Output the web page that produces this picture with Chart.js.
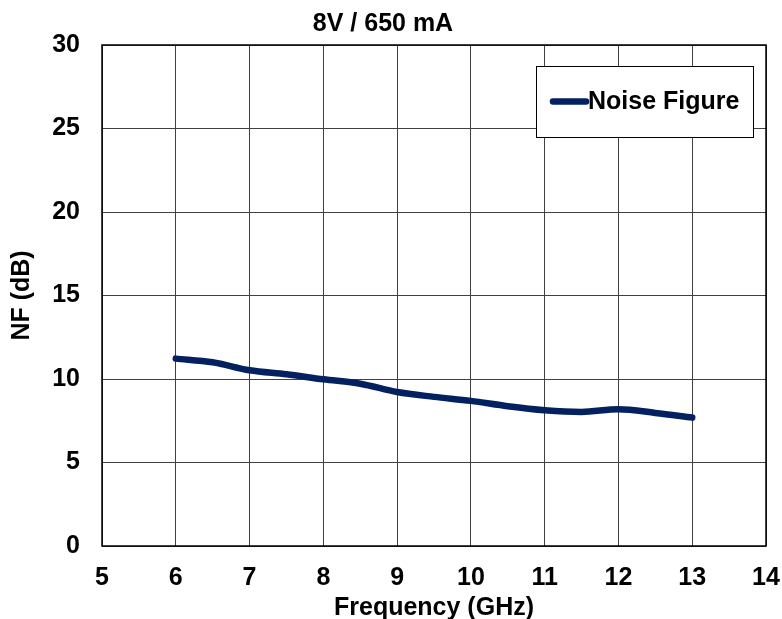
<!DOCTYPE html>
<html>
<head>
<meta charset="utf-8">
<script src="https://cdn.jsdelivr.net/npm/chart.js@4/dist/chart.umd.min.js"></script>
<style>
  html, body { margin: 0; padding: 0; background: #fff; }
  #wrap { width: 782px; height: 619px; }
</style>
</head>
<body>
<div id="wrap"><canvas id="c" width="782" height="619"></canvas></div>
<script>
const frequencyGHz = [6, 6.5, 7, 7.5, 8, 8.5, 9, 9.5, 10, 10.5, 11, 11.5, 12, 12.5, 13];
const noiseFigureDb = [11.22, 11.0, 10.52, 10.28, 9.98, 9.72, 9.22, 8.93, 8.69, 8.37, 8.13, 8.03, 8.19, 7.97, 7.69];
const seriesLabel = 'Noise Figure';
const chartTitle = '8V / 650 mA';
const xTitle = 'Frequency (GHz)';
const yTitle = 'NF (dB)';
const xTicks = [5, 6, 7, 8, 9, 10, 11, 12, 13, 14];
const yTicks = [0, 5, 10, 15, 20, 25, 30];

const FONT = "'Liberation Sans', Arial, sans-serif";
const FS = 25;
const NAVY = '#03215f';

const legendBox = {
  id: 'legendBox',
  afterDraw(chart) {
    const ctx = chart.ctx, a = chart.chartArea;
    const w = 217, h = 71;
    const x = a.right - 13 - w, y = a.top + 21;
    ctx.save();
    ctx.fillStyle = '#fff';
    ctx.fillRect(x, y, w, h);
    ctx.strokeStyle = '#000';
    ctx.lineWidth = 1;
    ctx.strokeRect(x + 0.5, y + 0.5, w, h);
    const cy = y + h / 2;
    ctx.strokeStyle = NAVY;
    ctx.lineWidth = 6.5;
    ctx.lineCap = 'round';
    ctx.beginPath();
    ctx.moveTo(x + 17, cy);
    ctx.lineTo(x + 50, cy);
    ctx.stroke();
    ctx.fillStyle = '#000';
    ctx.font = "bold " + FS + "px " + FONT;
    ctx.textAlign = 'left';
    ctx.textBaseline = 'middle';
    ctx.fillText(seriesLabel, x + 52, cy + 1);
    ctx.restore();
  }
};

const areaBorder = {
  id: 'areaBorder',
  afterDatasetsDraw(chart) {
    const ctx = chart.ctx, a = chart.chartArea;
    ctx.save();
    ctx.strokeStyle = '#000';
    ctx.lineWidth = 1.5;
    ctx.strokeRect(a.left, a.top, a.right - a.left, a.bottom - a.top);
    ctx.restore();
  }
};

new Chart(document.getElementById('c'), {
  type: 'line',
  data: {
    datasets: [{
      label: seriesLabel,
      data: frequencyGHz.map((f, i) => ({ x: f, y: noiseFigureDb[i] })),
      borderColor: NAVY,
      backgroundColor: NAVY,
      borderWidth: 6.5,
      borderCapStyle: 'round',
      borderJoinStyle: 'round',
      pointRadius: 0,
      tension: 0.4,
      cubicInterpolationMode: 'monotone',
      fill: false
    }]
  },
  options: {
    responsive: false,
    animation: false,
    layout: { padding: { left: 0, right: 16, top: 0, bottom: 0 } },
    plugins: {
      legend: { display: false },
      tooltip: { enabled: false },
      title: {
        display: true,
        text: chartTitle,
        color: '#000',
        font: { family: FONT, size: FS, weight: 'bold', lineHeight: 1.2 },
        padding: { top: 9, bottom: 6 }
      }
    },
    scales: {
      x: {
        type: 'linear',
        min: xTicks[0],
        max: xTicks[xTicks.length - 1],
        afterBuildTicks(scale) { scale.ticks = xTicks.map(v => ({ value: v })); },
        afterFit(scale) { scale.height = 73; scale.paddingLeft = 0; scale.paddingRight = 0; },
        grid: { color: '#404040', lineWidth: 1, drawTicks: false, tickLength: 0 },
        border: { display: false },
        ticks: {
          color: '#000',
          padding: 17,
          maxRotation: 0,
          autoSkip: false,
          font: { family: FONT, size: FS, weight: 'bold' }
        },
        title: {
          display: true,
          text: xTitle,
          color: '#000',
          font: { family: FONT, size: FS, weight: 'bold', lineHeight: 0.8 },
          padding: { top: 1, bottom: 1 }
        }
      },
      y: {
        min: yTicks[0],
        max: yTicks[yTicks.length - 1],
        afterBuildTicks(scale) { scale.ticks = yTicks.map(v => ({ value: v })); },
        afterFit(scale) { scale.width = 102; scale.paddingTop = 0; scale.paddingBottom = 0; },
        grid: { color: '#404040', lineWidth: 1, drawTicks: false, tickLength: 0 },
        border: { display: false },
        ticks: {
          color: '#000',
          padding: 22,
          autoSkip: false,
          font: { family: FONT, size: FS, weight: 'bold' }
        },
        title: {
          display: true,
          text: yTitle,
          color: '#000',
          font: { family: FONT, size: FS, weight: 'bold', lineHeight: 1.2 },
          padding: { top: 7, bottom: 7 }
        }
      }
    }
  },
  plugins: [areaBorder, legendBox]
});
</script>
</body>
</html>
